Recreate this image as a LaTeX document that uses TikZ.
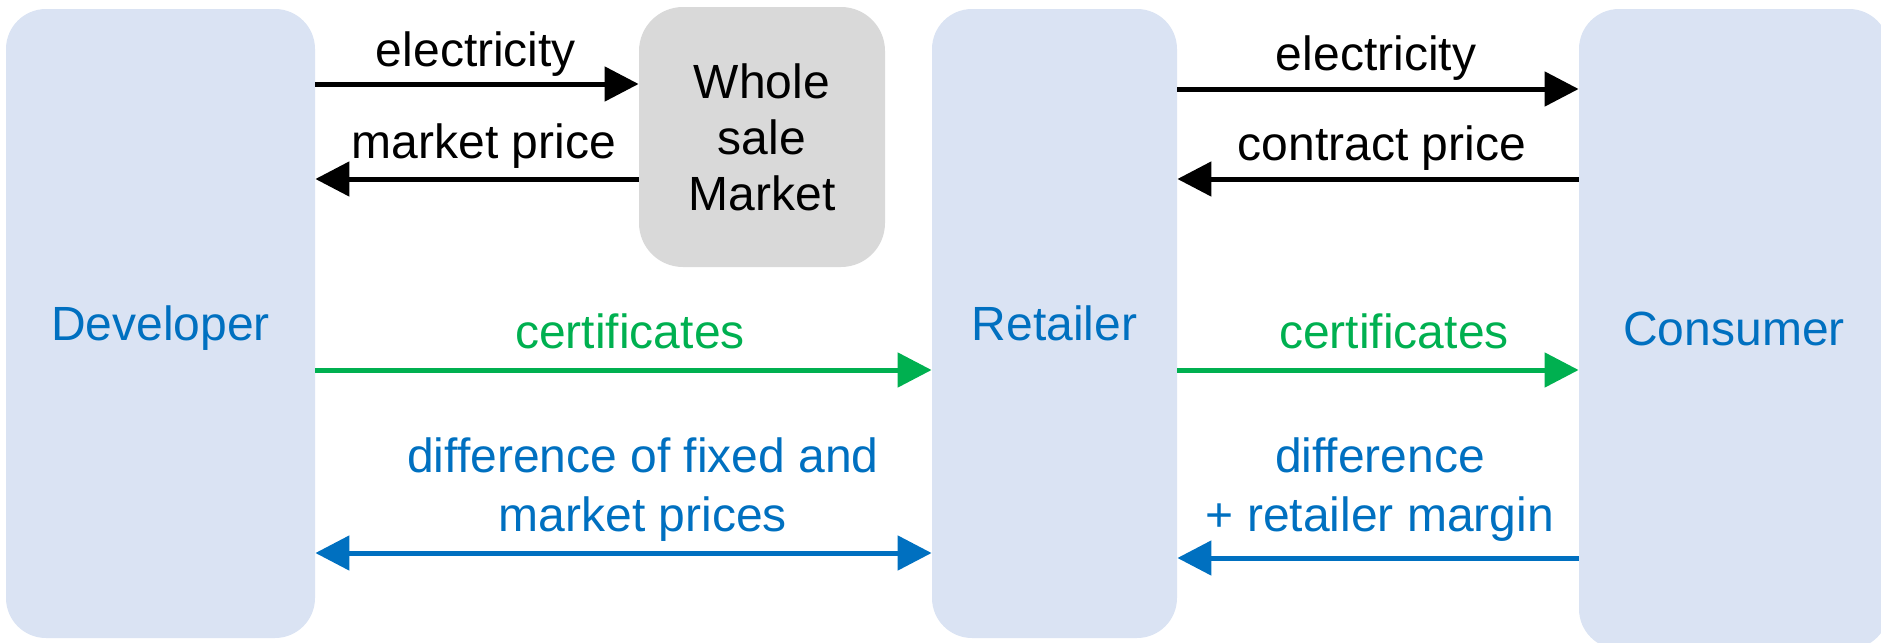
\documentclass[tikz,border=0pt]{standalone}
\usepackage{fontspec}
\setmainfont{Liberation Sans}
\usetikzlibrary{arrows.meta}
\definecolor{boxblue}{HTML}{DAE3F3}
\definecolor{boxgray}{HTML}{D9D9D9}
\definecolor{txtblue}{HTML}{0070C0}
\definecolor{certgreen}{HTML}{00B050}
\begin{document}
\begin{tikzpicture}[x=0.5pt,y=-0.5pt,
  party/.style={fill=boxblue, rounded corners=20pt, inner sep=0pt, text=txtblue,
    font=\fontsize{24}{28}\selectfont, align=center, text depth=0pt},
  market/.style={fill=boxgray, rounded corners=22pt, inner sep=0pt, text=black,
    font=\fontsize{24}{28}\selectfont, align=center},
  flow/.style={line width=2.5pt, -{Triangle[length=17pt,width=17pt]}},
  biflow/.style={line width=2.5pt, {Triangle[length=17pt,width=17pt]}-{Triangle[length=17pt,width=17pt]}},
  lbl/.style={font=\fontsize{24}{29.5}\selectfont, align=center, inner sep=0pt}
]
\useasboundingbox (0,0) rectangle (1881,643);
\clip (0,0) rectangle (1881,643);

\node[party, minimum width=154.5pt, minimum height=314.5pt] (dev) at (160.5,323.5) {Developer};
\node[party, minimum width=122.5pt, minimum height=314.5pt] (ret) at (1054.5,323.5) {Retailer};
\node[party, minimum width=155pt, minimum height=320pt] (con) at (1734,329) {Consumer};
\node[market, minimum width=123pt, minimum height=130pt] (wsm) at (762,137) {Whole\\sale\\Market};

\coordinate (y1) at (0,84);
\coordinate (y2) at (0,179);
\coordinate (y3) at (0,89);
\coordinate (y4) at (0,179);
\coordinate (y5) at (0,370);
\coordinate (y6) at (0,553);
\coordinate (y7) at (0,558);

\draw[flow] (dev.east |- y1) -- (wsm.west |- y1);
\draw[flow] (wsm.west |- y2) -- (dev.east |- y2);
\draw[flow] (ret.east |- y3) -- (con.west |- y3);
\draw[flow] (con.west |- y4) -- (ret.east |- y4);
\draw[flow, certgreen] (dev.east |- y5) -- (ret.west |- y5);
\draw[flow, certgreen] (ret.east |- y5) -- (con.west |- y5);
\draw[biflow, txtblue] (dev.east |- y6) -- (ret.west |- y6);
\draw[flow, txtblue] (con.west |- y7) -- (ret.east |- y7);

\node[lbl] (l1) at (476,54) {electricity};
\node[lbl] (l2) at (484,146) {market price};
\node[lbl] (l3) at (1376,58) {electricity};
\node[lbl] (l4) at (1382,148) {contract price};
\node[lbl, text=certgreen] (l5) at (630,331) {certificates};
\node[lbl, text=certgreen] (l6) at (1394,331) {certificates};
\node[lbl, text=txtblue] (l7) at (643,490) {difference of fixed and\\market prices};
\node[lbl, text=txtblue] (l8) at (1380,490) {difference\\+ retailer margin};
\end{tikzpicture}
\end{document}
